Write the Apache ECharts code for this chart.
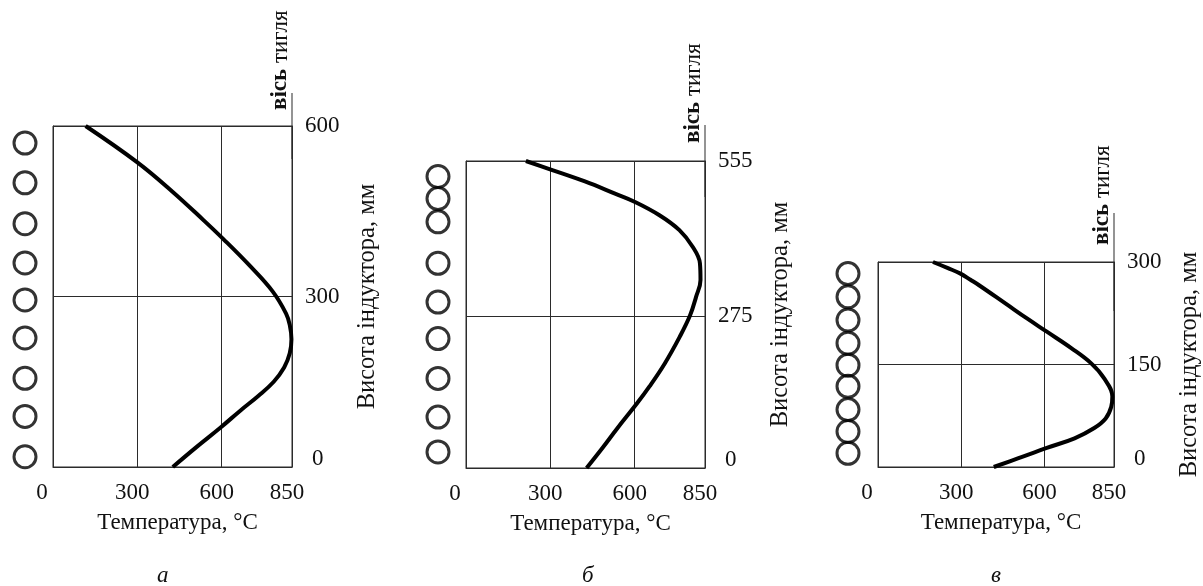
<!DOCTYPE html>
<html><head><meta charset="utf-8">
<script src="https://cdn.jsdelivr.net/npm/echarts@6/dist/echarts.min.js"></script>
<style>html,body{margin:0;padding:0;background:#fff}#c{width:1203px;height:586px}</style>
</head><body><div id="c"></div>
<script>
// ---- data ----
const tempTicks = [0, 300, 600, 850];
const heightTicksA = [0, 300, 600];
const heightTicksB = [0, 275, 555];
const heightTicksC = [0, 150, 300];

const heightsA = [0, 35, 69, 100, 125, 150, 175, 200, 225, 250, 270, 309, 355, 401, 434, 484, 536, 600];
const tempsA   = [426, 510, 595, 668, 730, 785, 822, 842, 848, 842, 829, 781, 698, 606, 536, 426, 300, 116];

const heightsB = [0, 38, 71, 116, 147, 189, 237, 276, 309, 340, 370, 400, 430, 457, 481, 496, 518, 540, 555];
const tempsB   = [429, 488, 537, 607, 652, 707, 760, 797, 818, 834, 832, 806, 759, 688, 601, 530, 423, 299, 213];

const heightsC = [0, 13, 28, 42, 57, 71, 88, 103, 130, 152, 174, 198, 217, 239, 266, 274, 283, 291, 300];
const tempsC   = [417, 506, 608, 708, 779, 820, 840, 844, 814, 767, 696, 608, 538, 460, 364, 333, 297, 252, 198];

const coilA = [18, 89, 156, 227, 294, 359, 428, 500, 570];
const coilB = [29, 92, 162, 234, 300, 370, 445, 487, 527];
const coilC = [20, 52, 84, 118, 149, 181, 215, 249, 283];

const panelLetters = ['а', 'б', 'в'];
const xTitle = 'Температура, °C';
const yTitle = 'Висота індуктора, мм';
const crucibleAxis = '{b|вісь} тигля';

// ---- layout / style ----
const FONT = 'Liberation Serif';
const FS = 23;
const TXT = '#111';
const LINE = '#2b2b2b';

const panels = [
  {left: 53,  top: 126, width: 239, height: 341, coilX: 25,  ext: 33, extGap: 16, heights: heightsA, temps: tempsA, coils: coilA, yTicks: heightTicksA, letterX: 163},
  {left: 466, top: 161, width: 239, height: 307, coilX: 438, ext: 36, extGap: 18, heights: heightsB, temps: tempsB, coils: coilB, yTicks: heightTicksB, letterX: 588},
  {left: 878, top: 262, width: 239, height: 205, coilX: 848, ext: 49, extGap: 17, heights: heightsC, temps: tempsC, coils: coilC, yTicks: heightTicksC, letterX: 997}
];

const grid = [], xAxis = [], yAxis = [], series = [], graphic = [];
const txt = {fontFamily: FONT, fontSize: FS, color: TXT};

panels.forEach((p, i) => {
  const yMax = p.yTicks[p.yTicks.length - 1];
  grid[i] = {left: p.left, top: p.top, width: p.width, height: p.height, show: true,
             borderColor: LINE, borderWidth: 1, backgroundColor: 'transparent'};
  grid[3 + i] = {left: p.coilX - 15, top: p.top, width: 30, height: p.height};

  xAxis[i] = {
    type: 'value', gridIndex: i, min: 0, max: tempTicks[tempTicks.length - 1],
    axisLine: {show: true, lineStyle: {color: LINE, width: 1}},
    axisTick: {show: false, customValues: tempTicks},
    splitLine: {show: true, lineStyle: {color: LINE, width: 1}},
    axisLabel: {
      customValues: tempTicks, margin: 14, ...txt,
      formatter: v => v === 0 ? '{z|0}' : '{n|' + v + '}',
      rich: {z: {...txt, padding: [0, 22, 0, 0]}, n: {...txt, padding: [0, 10, 0, 0]}}
    },
    name: xTitle, nameLocation: 'middle', nameGap: 44,
    nameTextStyle: {...txt, padding: [0, 0, 0, 10]}
  };
  xAxis[3 + i] = {type: 'value', gridIndex: 3 + i, min: -1, max: 1, show: false};

  yAxis[i] = {
    type: 'value', gridIndex: i, position: 'right', min: 0, max: yMax,
    axisLine: {show: true, lineStyle: {color: LINE, width: 1}},
    axisTick: {show: false, customValues: p.yTicks},
    splitLine: {show: true, lineStyle: {color: LINE, width: 1}},
    axisLabel: {
      customValues: p.yTicks, margin: 13, ...txt,
      formatter: v => v === 0 ? '{z|0}' : '{n|' + v + '}',
      rich: {z: {...txt, padding: [0, 0, 16, 7]}, n: {...txt}}
    },
    name: yTitle, nameLocation: 'middle', nameGap: 63,
    nameTextStyle: {...txt, fontSize: 24.5}
  };
  yAxis[3 + i] = {type: 'value', gridIndex: 3 + i, min: 0, max: yMax, show: false};
  yAxis[6 + i] = {
    type: 'value', gridIndex: i, position: 'right', min: 0, max: yMax,
    axisLine: {show: true, symbol: ['none', 'rect'], symbolSize: [1, 2 * p.ext],
               lineStyle: {color: LINE, width: 1}},
    axisTick: {show: false}, axisLabel: {show: false}, splitLine: {show: false},
    name: crucibleAxis, nameLocation: 'end', nameRotate: 90, nameGap: p.extGap,
    nameTextStyle: {...txt, align: 'left', verticalAlign: 'bottom',
                    rich: {b: {...txt, fontWeight: 'bold'}}}
  };

  series.push({
    type: 'line', xAxisIndex: i, yAxisIndex: i, clip: false,
    data: p.heights.map((h, k) => [p.temps[k], h]),
    smooth: 0.4, showSymbol: false, symbol: 'none',
    lineStyle: {color: '#000', width: 4}
  });
  series.push({
    type: 'scatter', xAxisIndex: 3 + i, yAxisIndex: 3 + i, clip: false,
    data: p.coils.map(h => [0, h]),
    symbol: 'circle', symbolSize: 22,
    itemStyle: {color: 'rgba(0,0,0,0)', borderColor: '#000', borderWidth: 3}
  });

  graphic.push({type: 'text', left: p.letterX - 6, top: 564,
    style: {text: panelLetters[i], font: 'italic ' + FS + 'px "' + FONT + '"', fill: TXT}});
});

const chart = echarts.init(document.getElementById('c'), null, {renderer: 'canvas'});
chart.setOption({animation: false, backgroundColor: '#fff', grid, xAxis, yAxis, series, graphic});
</script></body></html>
